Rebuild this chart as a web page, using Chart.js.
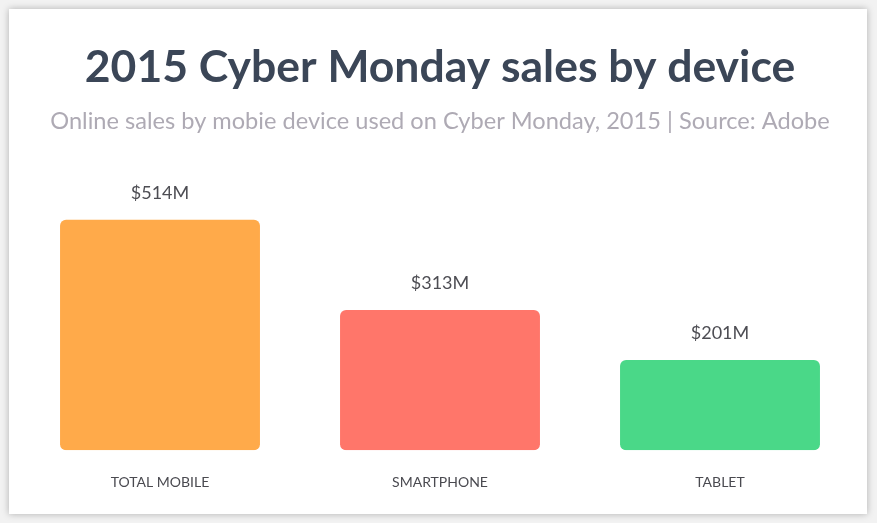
<!DOCTYPE html>
<html>
<head>
<meta charset="utf-8">
<script src="https://cdn.jsdelivr.net/npm/chart.js@4"></script>
<style>
  html, body { margin: 0; padding: 0; background: #f2f2f2; }
  body { width: 877px; height: 523px; position: relative; overflow: hidden; }
  .card {
    position: absolute; left: 9px; top: 9px; width: 858px; height: 505px;
    background: #fff; box-shadow: 0 0 7px rgba(0,0,0,0.28);
  }
  canvas { display: block; }
</style>
</head>
<body>
<div class="card"><canvas id="salesChart" width="858" height="505"></canvas></div>
<script>
const devices = ['TOTAL MOBILE', 'SMARTPHONE', 'TABLET'];
const salesMillions = [514, 313, 201];
const barColors = ['#FFAA4A', '#FF766A', '#4AD888'];

// value labels above bars ($514M etc)
const valueLabels = {
    id: 'valueLabels',
    afterDatasetsDraw(chart) {
        const ctx = chart.ctx;
        const meta = chart.getDatasetMeta(0);
        ctx.save();
        ctx.font = '18px Lato';
        ctx.fillStyle = '#4d4d53';
        ctx.textAlign = 'center';
        ctx.textBaseline = 'middle';
        meta.data.forEach((bar, i) => {
            ctx.fillText('$' + salesMillions[i] + 'M', bar.x, bar.y - 27);
        });
        ctx.restore();
    }
};

document.addEventListener('DOMContentLoaded', function() {
    const ctx = document.getElementById('salesChart').getContext('2d');
    new Chart(ctx, {
        type: 'bar',
        data: {
            labels: devices,
            datasets: [{
                data: salesMillions,
                backgroundColor: barColors,
                borderRadius: 6,
                borderSkipped: false,
                categoryPercentage: 1,
                barPercentage: 0.714
            }]
        },
        options: {
            responsive: false,
            animation: false,
            layout: { padding: { left: 11, right: 7, top: 0, bottom: -1 } },
            plugins: {
                legend: { display: false },
                tooltip: { enabled: false },
                title: {
                    display: true,
                    text: '2015 Cyber Monday sales by device',
                    color: '#3B4657',
                    font: { family: 'Lato', size: 44.5, weight: '700', lineHeight: 1.2 },
                    padding: { top: 32, bottom: 0 }
                },
                subtitle: {
                    display: true,
                    text: 'Online sales by mobie device used on Cyber Monday, 2015 | Source: Adobe',
                    color: '#AEAAB4',
                    font: { family: 'Lato', size: 23.6, weight: '400', lineHeight: 1.2 },
                    padding: { top: 13, bottom: 45.5 }
                }
            },
            scales: {
                x: {
                    grid: { display: false, drawTicks: false },
                    border: { display: false },
                    ticks: {
                        color: '#4a4a50',
                        font: { family: 'Lato', size: 14 },
                        padding: 24
                    }
                },
                y: {
                    display: false,
                    min: 0,
                    max: 600
                }
            }
        },
        plugins: [valueLabels]
    });
});
</script>
</body>
</html>
